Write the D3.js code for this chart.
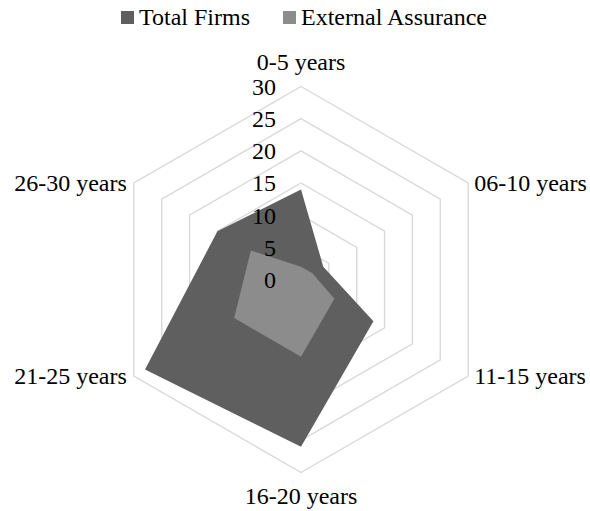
<!DOCTYPE html>
<html>
<head>
<meta charset="utf-8">
<script src="https://cdn.jsdelivr.net/npm/d3@7"></script>
<style>
  body { margin: 0; background: #fff; }
</style>
</head>
<body>
<div id="chart"></div>
<script>
// Data
const categories = ['0-5 years', '06-10 years', '11-15 years', '16-20 years', '21-25 years', '26-30 years'];
const totalFirms = [14, 4, 13, 26, 28, 15];
const externalAssurance = [2, 2, 6, 12, 12, 9];
const ticks = [0, 5, 10, 15, 20, 25, 30];

const seriesNames = ['Total Firms', 'External Assurance'];
const seriesColors = ['#5f5f5f', '#8c8c8c'];

const FONT = "'Liberation Serif'";

const width = 590, height = 511;
const cx = 301, cy = 279.5, R = 193;

const svg = d3.select('#chart').append('svg')
    .attr('width', width)
    .attr('height', height);

const r = d3.scaleLinear().domain([0, 30]).range([0, R]);
const angle = d3.scaleLinear().domain([0, categories.length]).range([0, 2 * Math.PI]);

const g = svg.append('g').attr('transform', `translate(${cx},${cy})`);

const radial = d3.lineRadial()
    .angle((d, i) => angle(i))
    .radius(d => r(d))
    .curve(d3.curveLinearClosed);

// Grid rings (hexagons)
g.append('g')
    .selectAll('path')
    .data(ticks.filter(t => t > 0))
    .enter().append('path')
    .attr('d', t => radial(categories.map(() => t)))
    .attr('fill', 'none')
    .attr('stroke', '#d9d9d9')
    .attr('stroke-width', 1.4);

// Series polygons
const series = [totalFirms, externalAssurance];
g.append('g')
    .selectAll('path')
    .data(series)
    .enter().append('path')
    .attr('d', d => radial(d))
    .attr('fill', (d, i) => seriesColors[i]);

// Tick labels
g.append('g')
    .selectAll('text')
    .data(ticks)
    .enter().append('text')
    .attr('x', -25)
    .attr('y', t => -r(t))
    .attr('dy', '0.35em')
    .attr('text-anchor', 'end')
    .style('font-family', FONT)
    .style('font-size', '24px')
    .text(t => t);

// Category labels
const labelPos = (i) => {
    const a = angle(i);
    const x = Math.sin(a) * R, y = -Math.cos(a) * R;
    if (i === 0) return { x, y: y - 17, anchor: 'middle', dy: '0' };
    if (i === 3) return { x, y: y + 12, anchor: 'middle', dy: '0.8em' };
    if (x > 0) return { x: x + 6, y, anchor: 'start', dy: '0.35em' };
    return { x: x - 7, y, anchor: 'end', dy: '0.35em' };
};

g.append('g')
    .selectAll('text')
    .data(categories)
    .enter().append('text')
    .each(function (d, i) {
        const p = labelPos(i);
        d3.select(this)
            .attr('x', p.x)
            .attr('y', p.y)
            .attr('dy', p.dy)
            .attr('text-anchor', p.anchor);
    })
    .style('font-family', FONT)
    .style('font-size', '24px')
    .text(d => d);

// Legend
const legendX = [121, 283];
const legend = svg.append('g')
    .selectAll('g')
    .data(seriesNames)
    .enter().append('g')
    .attr('transform', (d, i) => `translate(${legendX[i]},11)`);

legend.append('rect')
    .attr('width', 13)
    .attr('height', 13)
    .attr('fill', (d, i) => seriesColors[i]);

legend.append('text')
    .attr('x', 18)
    .attr('y', 14)
    .style('font-family', FONT)
    .style('font-size', '24px')
    .text(d => d);
</script>
</body>
</html>
